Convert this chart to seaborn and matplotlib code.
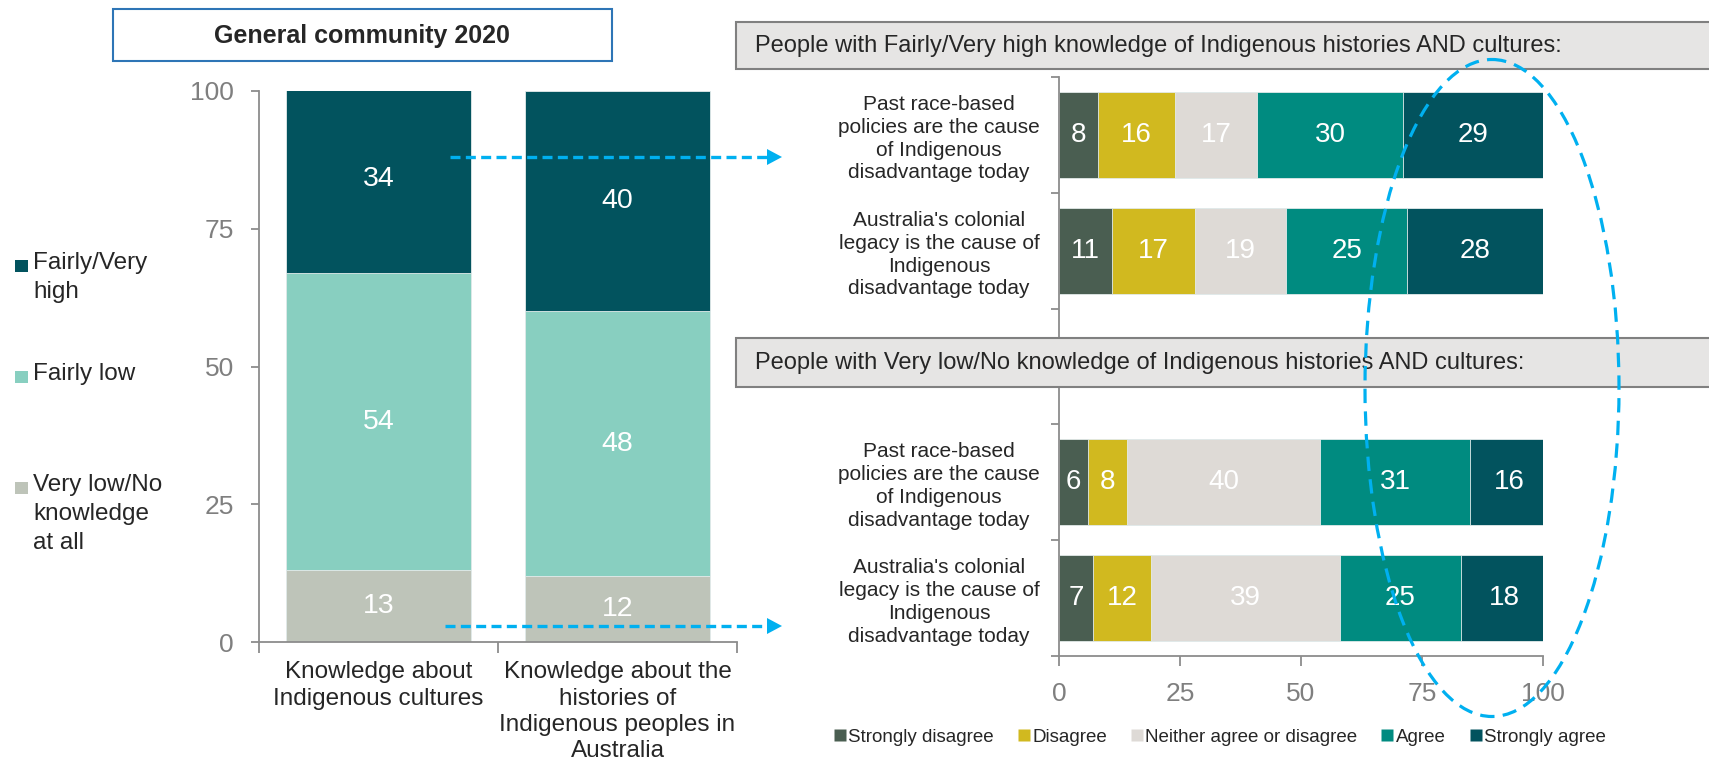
import numpy as np
import pandas as pd
import matplotlib
matplotlib.use('Agg')
import matplotlib.pyplot as plt
import seaborn as sns
from matplotlib.patches import Rectangle, Ellipse, Polygon
from matplotlib.lines import Line2D

# dane - lewy wykres (wiedza o kulturach / historii)
knowledge_cats = ['Knowledge about\nIndigenous cultures',
                  'Knowledge about the\nhistories of\nIndigenous peoples in\nAustralia']
knowledge_levels = ['Very low/No\nknowledge\nat all', 'Fairly low', 'Fairly/Very\nhigh']
very_low = [13, 12]
fairly_low = [54, 48]
fairly_high = [34, 40]

# dane - prawy wykres (zgoda ze stwierdzeniami)
statements = ['Past race-based\npolicies are the cause\nof Indigenous\ndisadvantage today',
              "Australia's colonial\nlegacy is the cause of\nIndigenous\ndisadvantage today"]
agree_levels = ['Strongly disagree', 'Disagree', 'Neither agree or disagree', 'Agree', 'Strongly agree']
high_sd = [8, 11]
high_d = [16, 17]
high_n = [17, 19]
high_a = [30, 25]
high_sa = [29, 28]
low_sd = [6, 7]
low_d = [8, 12]
low_n = [40, 39]
low_a = [31, 25]
low_sa = [16, 18]

# kolory
left_colors = ['#BEC4B9', '#88CFC0', '#02535E']
right_colors = ['#4A5E51', '#D1B91F', '#DEDAD6', '#008B80', '#02535E']
spine_col = '#8C8C8C'
tick_col = '#7F7F7F'
blue = '#00B0F0'

sns.set_style('white')
plt.rcParams['font.family'] = ['Liberation Sans', 'DejaVu Sans']

W, H = 1709, 765
fig = plt.figure(figsize=(W / 100, H / 100), dpi=100)


def px_axes(x0, y0, x1, y1):
    # osie w pikselach (y od góry)
    return fig.add_axes([x0 / W, 1 - y1 / H, (x1 - x0) / W, (y1 - y0) / H])


def stacked(ax, cats, names, series, colors, horizontal, width):
    df = pd.DataFrame(dict(zip(names, series)), index=cats)
    cum = df.cumsum(axis=1)
    # rysujemy sumy skumulowane od największej - kolejne słupki się nakładają
    for name, color in reversed(list(zip(names, colors))):
        if horizontal:
            sns.barplot(x=cum[name].values, y=cats, orient='h', color=color,
                        saturation=1, width=width, ax=ax,
                        edgecolor='#E4ECEC', linewidth=0.6)
        else:
            sns.barplot(x=cats, y=cum[name].values, color=color,
                        saturation=1, width=width, ax=ax,
                        edgecolor='#E4ECEC', linewidth=0.6)
    # etykiety w środku segmentów
    for name in names:
        mids = (cum[name] - df[name] / 2).values
        for i, (m, v) in enumerate(zip(mids, df[name].values)):
            if horizontal:
                ax.text(m, i, str(v), ha='center', va='center', color='white', fontsize=20)
            else:
                ax.text(i, m, str(v), ha='center', va='center', color='white', fontsize=20.5)


def style_spines(ax, left=True, bottom=True):
    for s in ['top', 'right']:
        ax.spines[s].set_visible(False)
    ax.spines['left'].set_visible(left)
    ax.spines['bottom'].set_visible(bottom)
    for s in ['left', 'bottom']:
        ax.spines[s].set_color(spine_col)
        ax.spines[s].set_linewidth(1.3)


# ---------- lewy wykres ----------
axL = px_axes(259, 91, 737, 642)
stacked(axL, knowledge_cats, knowledge_levels, [very_low, fairly_low, fairly_high],
        left_colors, horizontal=False, width=0.77)
axL.set_ylim(0, 100)
axL.set_xlim(-0.5, 1.5)
axL.set_yticks([0, 25, 50, 75, 100])
axL.tick_params(axis='y', labelsize=19, labelcolor=tick_col, color=spine_col,
                length=6, width=1.3, pad=12, left=True)
axL.set_xticks([0, 1])
axL.set_xticklabels(knowledge_cats, fontsize=17.5, linespacing=1.25)
axL.set_xticks([-0.5, 0.5, 1.5], minor=True)
axL.tick_params(axis='x', which='major', length=0, pad=14)
axL.tick_params(axis='x', which='minor', length=8, width=1.3, color=spine_col, bottom=True)
axL.set_xlabel('')
axL.set_ylabel('')
style_spines(axL)

# ---------- prawy wykres - górny panel ----------
axU = px_axes(1059, 77, 1543, 338)
stacked(axU, statements, agree_levels, [high_sd, high_d, high_n, high_a, high_sa],
        right_colors, horizontal=True, width=0.74)
axU.set_xlim(0, 100)
axU.set_ylim(1.75, -0.5)
axU.set_xticks([])

# ---------- prawy wykres - dolny panel ----------
axD = px_axes(1059, 387, 1543, 656)
stacked(axD, statements, agree_levels, [low_sd, low_d, low_n, low_a, low_sa],
        right_colors, horizontal=True, width=0.74)
axD.set_xlim(0, 100)
axD.set_ylim(1.5, -0.82)
axD.set_xticks([0, 25, 50, 75, 100])
axD.tick_params(axis='x', labelsize=19, labelcolor=tick_col, color=spine_col,
                length=7, width=1.3, pad=12, bottom=True)

for ax in [axU, axD]:
    ax.set_yticks([0, 1])
    ax.set_yticklabels(statements, fontsize=15, linespacing=1.25)
    for t in ax.get_yticklabels():
        t.set_multialignment('center')
    ax.set_yticks([-0.5, 0.5, 1.5], minor=True)
    ax.tick_params(axis='y', which='major', length=0, pad=14)
    ax.tick_params(axis='y', which='minor', length=6, width=1.3, color=spine_col, left=True)
    ax.set_xlabel('')
    ax.set_ylabel('')
style_spines(axU, bottom=False)
style_spines(axD)

# ---------- warstwa z ramkami, strzałkami i elipsą ----------
ov = fig.add_axes([0, 0, 1, 1], zorder=10)
ov.set_xlim(0, W)
ov.set_ylim(H, 0)
ov.axis('off')

# tytuł lewego wykresu
ov.add_patch(Rectangle((113, 9), 499, 52, facecolor='white', edgecolor='#2E75B6', lw=1.5))
ov.text(362, 36, 'General community 2020', ha='center', va='center',
        fontsize=18, weight='bold')

# nagłówki prawego wykresu
headers = ['People with Fairly/Very high knowledge of Indigenous histories AND cultures:',
           'People with Very low/No knowledge of Indigenous histories AND cultures:']
for (y0, y1), txt in zip([(22, 69), (338, 387)], headers):
    ov.add_patch(Rectangle((736, y0), 990, y1 - y0, facecolor='#E6E5E4',
                           edgecolor='#808080', lw=1.5, zorder=1))
    ov.text(755, (y0 + y1) / 2, txt, ha='left', va='center', fontsize=17, zorder=2)

# legenda po lewej
leg_y = [267, 378, 489]
for y, name, col in zip(leg_y, reversed(knowledge_levels), reversed(left_colors)):
    ov.add_patch(Rectangle((15, y - 7), 13, 12, facecolor=col, edgecolor='none'))
    ov.text(33, y - 15, name, ha='left', va='top', fontsize=17.5, linespacing=1.42)

# strzałki
for (x0, x1, y) in [(450, 770, 157), (445, 770, 626)]:
    ov.plot([x0, x1], [y, y], color=blue, lw=2.4, dashes=(3, 1.6))
    ov.add_patch(Polygon([(767, y - 8), (782, y), (767, y + 8)], closed=True,
                         facecolor=blue, edgecolor='none'))

# elipsa
ov.add_patch(Ellipse((1492, 388), 254, 657, facecolor='none', edgecolor=blue,
                     lw=2.3, linestyle=(0, (4.5, 2.6)), zorder=5))

# legenda dolna
handles = [Line2D([], [], marker='s', linestyle='none', markersize=8,
                  markerfacecolor=c, markeredgecolor='none') for c in right_colors]
fig.legend(handles, agree_levels, loc='center', bbox_to_anchor=(1219 / W, 1 - 737 / H),
           ncol=5, frameon=False, fontsize=13.5, handletextpad=0.05,
           columnspacing=1.2, handlelength=0.8)

fig.savefig('out.png', dpi=100, facecolor='white')
